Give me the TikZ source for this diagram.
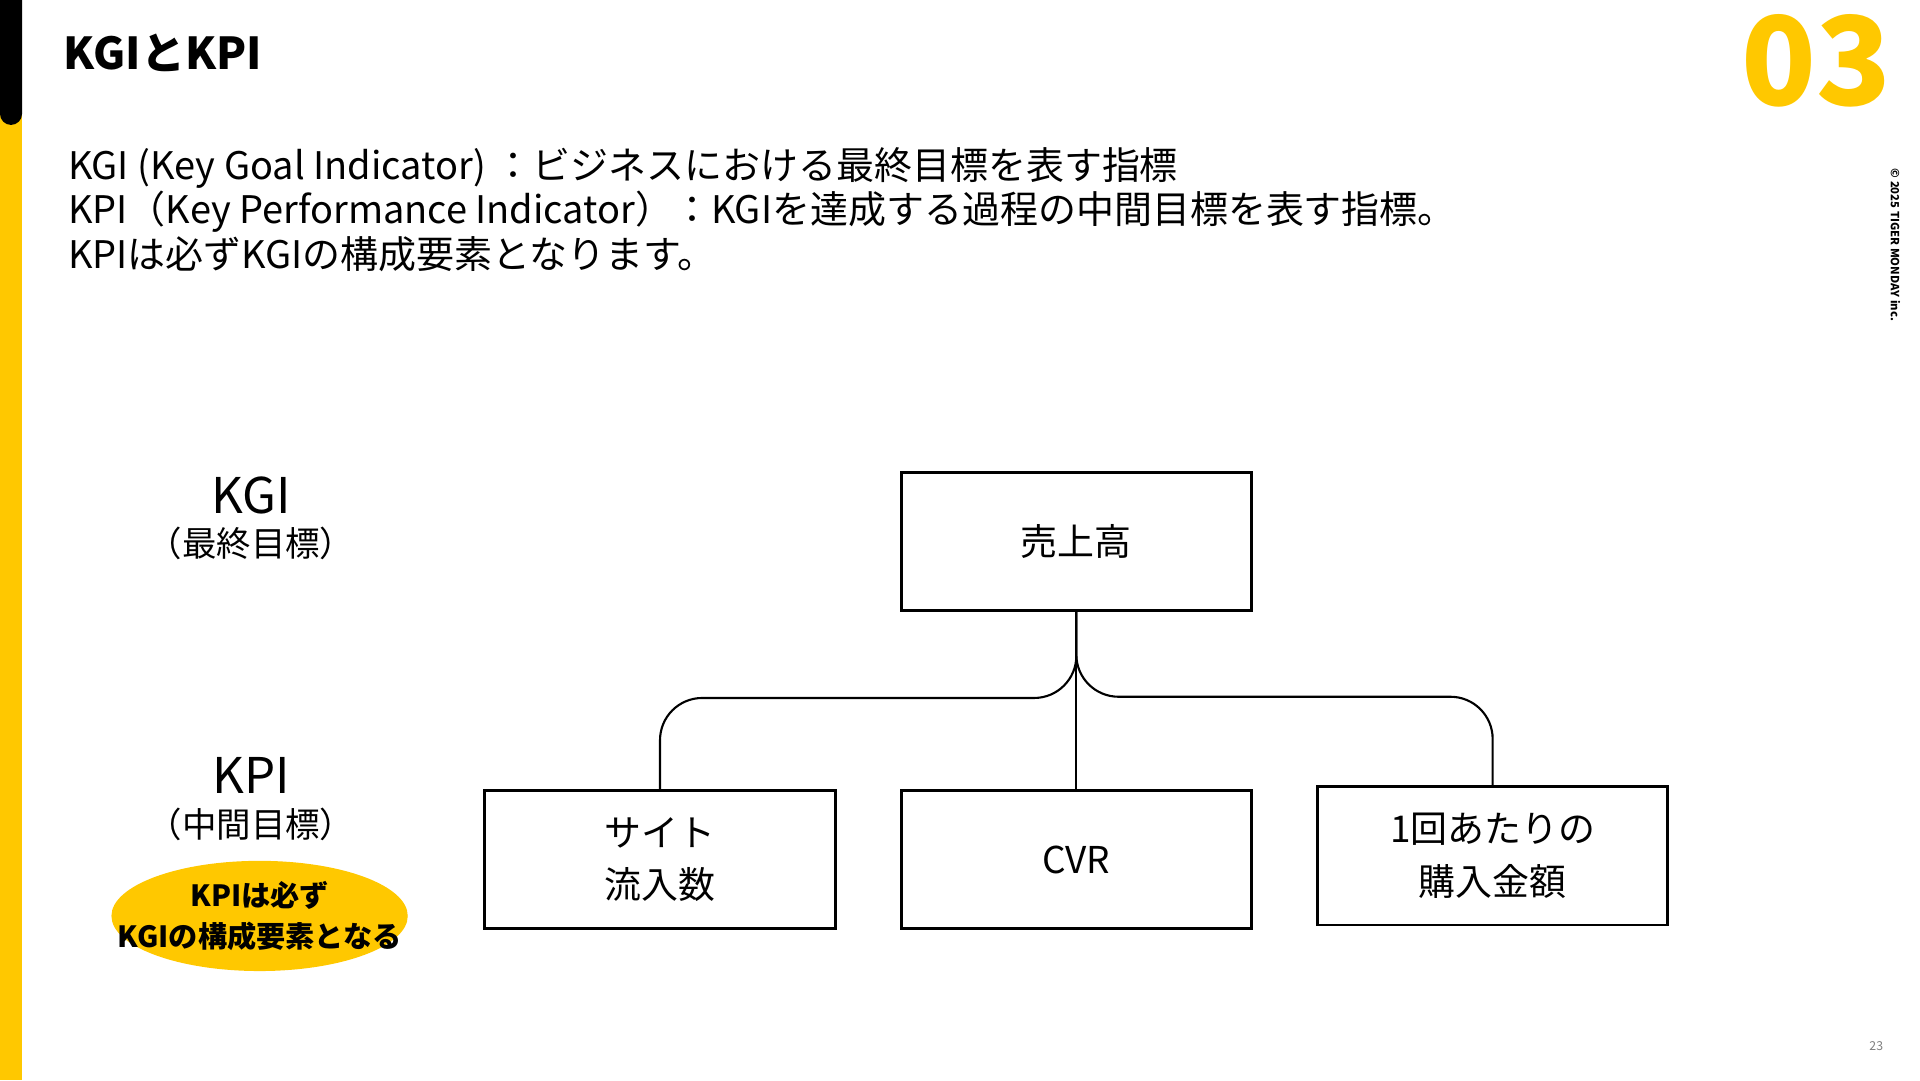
\documentclass[tikz,border=0pt]{standalone}
\usepackage{fontspec}
\setmainfont{Noto Sans CJK JP}
\usetikzlibrary{positioning, shapes.geometric}
\definecolor{tigeryellow}{HTML}{FFC800}

\begin{document}
\begin{tikzpicture}[x=0.012245cm, y=-0.012245cm,
    box/.style={draw, thick, minimum width=3.5cm, minimum height=1.38cm, font=\fontsize{10.5pt}{15pt}\selectfont, align=center},
    lvl/.style={font=\fontsize{14pt}{16pt}\selectfont, align=center},
    sub/.style={font=\fontsize{9.8pt}{12pt}\selectfont},
    link/.style={semithick, rounded corners=12}]
    \useasboundingbox (0,0) rectangle (1568,882);
    \fill[tigeryellow] (0,0) rectangle (18,882);
    \fill[black] (0,0) -- (18,0) -- (18,93) arc (0:180:9) -- cycle;
    \node[anchor=west, font=\bfseries\fontsize{12.5pt}{14pt}\selectfont] (title) at (42,43) {KGIとKPI};
    \node[anchor=east, inner sep=0, text=tigeryellow, font=\bfseries\fontsize{35pt}{38pt}\selectfont] (num) at (1545,50) {03};
    \node[rotate=-90, font=\bfseries\fontsize{3.2pt}{4pt}\selectfont] (copy) at (1548,200) {© 2025 TIGER MONDAY inc.};
    \node[anchor=east, text=gray, font=\fontsize{3.5pt}{4pt}\selectfont] (page) at (1548,854) {23};
    \node[anchor=north west, align=left, inner sep=0, font=\fontsize{10.8pt}{12.6pt}\selectfont] (desc) at (55,120)
        {KGI (Key Goal Indicator) ：ビジネスにおける最終目標を表す指標\\
         KPI（Key Performance Indicator）：KGIを達成する過程の中間目標を表す指標。\\
         KPIは必ずKGIの構成要素となります。};
    % level labels
    \node[lvl] (kgi) at (205,405) {KGI};
    \node[sub] (kgisub) at (205,444) {（最終目標）};
    \node[lvl] (kpi) at (205,633) {KPI};
    \node[sub] (kpisub) at (205,673) {（中間目標）};
    \fill[tigeryellow] (212,748) ellipse [x radius=121, y radius=45];
    \node[align=center, inner sep=0, font=\bfseries\fontsize{8.3pt}{11.8pt}\selectfont] (note) at (212,748) {KPIは必ず\\KGIの構成要素となる};
    % boxes
    \node[box] (sales) at (879,442) {売上高};
    \node[box] (site) at (539,702) {サイト\\流入数};
    \node[box] (cvr) at (879,702) {CVR};
    \node[box] (unit) at (1219,699) {1回あたりの\\購入金額};
    % connectors
    \coordinate (jl) at (879,570);
    \coordinate (jr) at (879,569);
    \draw[link] (sales.south) -- (jl) -| (site.north);
    \draw[link] (sales.south) -- (jr) -| (unit.north);
    \draw[semithick] (sales.south) -- (cvr.north);
\end{tikzpicture}
\end{document}
